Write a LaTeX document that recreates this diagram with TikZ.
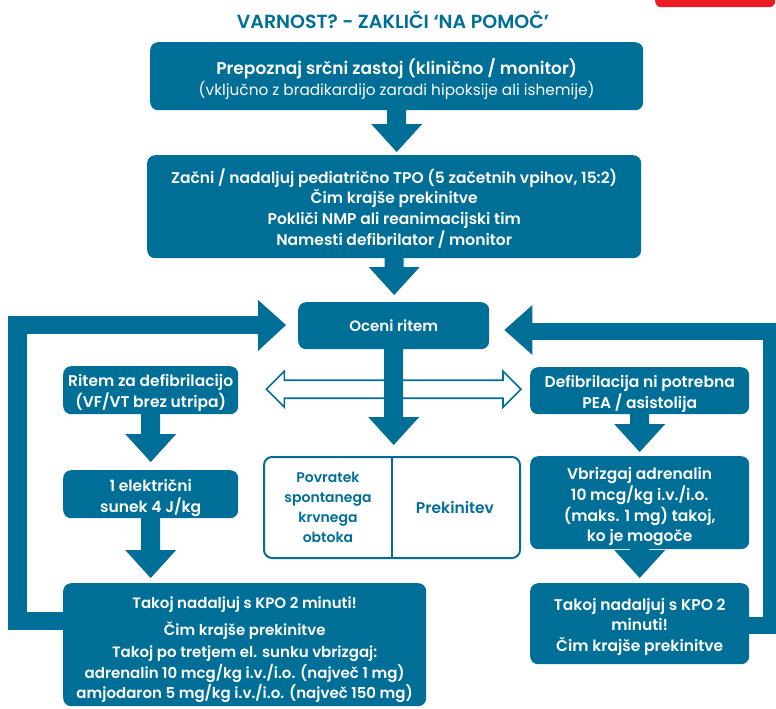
\documentclass[tikz,border=0pt]{standalone}
\usepackage{fontspec}
\setmainfont{Poppins}[BoldFont={Poppins SemiBold}]
\usetikzlibrary{calc}
\definecolor{ercblue}{RGB}{0,111,152}
\definecolor{ercred}{RGB}{237,28,36}
\pgfdeclarelayer{background}
\pgfsetlayers{background,main}

\tikzset{
  flowbox/.style={fill=ercblue, rounded corners=8pt, anchor=north west, inner sep=0pt},
  flowtext/.style={text=white, inner sep=0pt, align=center,
    font=\bfseries\fontsize{15.5}{20.7}\selectfont},
  outcomebox/.style={draw=ercblue, line width=2pt, fill=white, rounded corners=8pt,
    anchor=north west, inner sep=0pt},
  outcometext/.style={text=ercblue, align=center, inner sep=0pt,
    font=\bfseries\fontsize{14}{20}\selectfont},
  titletext/.style={text=ercblue, font=\bfseries\fontsize{19}{22}\selectfont},
  loopbar/.style={draw=ercblue, line join=miter},
}

% text of box #1, set #2 pt below its centre
\newcommand{\boxtext}[4][]{%
  \node[flowtext,#1] (#2-text) at ($(#2.center)+(0,#3)$) {#4};}

% vertical block arrow from the bottom of #1 to just above the top of #2 (gap #3)
\newcommand{\flowdown}[3]{%
  \fill[ercblue] let \p1=(#1.south), \p2=(#2.north) in
    (\x1-9.5pt,\y1+1pt) -- (\x1-9.5pt,\y2+#3pt+28pt) -- (\x1-25.5pt,\y2+#3pt+28pt)
    -- (\x1,\y2+#3pt) -- (\x1+25.5pt,\y2+#3pt+28pt) -- (\x1+9.5pt,\y2+#3pt+28pt)
    -- (\x1+9.5pt,\y1+1pt) -- cycle;}

\begin{document}
\begin{tikzpicture}[x=1pt, y=-1pt]
\useasboundingbox (0,0) rectangle (776,709);

% corner badge
\node[fill=ercred, rounded corners=6pt, anchor=north west, inner sep=0pt,
      minimum width=120pt, minimum height=18pt] (badge) at (655,-11) {};

\node[titletext] (title) at (393,20) {VARNOST? - ZAKLIČI ‘NA POMOČ’};

% boxes
\node[flowbox, minimum width=493pt, minimum height=68pt]  (b1)    at (150,42)  {};
\node[flowbox, minimum width=494pt, minimum height=103pt] (b2)    at (147,155) {};
\node[flowbox, minimum width=191pt, minimum height=47pt]  (oceni) at (298,302) {};
\node[flowbox, minimum width=175pt, minimum height=48pt]  (ritem) at (63,366)  {};
\node[flowbox, minimum width=219pt, minimum height=47pt]  (defib) at (530,367) {};
\node[flowbox, minimum width=175pt, minimum height=48pt]  (sunek) at (63,470)  {};
\node[flowbox, minimum width=219pt, minimum height=93pt]  (vbr)   at (530,456) {};
\node[flowbox, minimum width=363pt, minimum height=123pt] (bl)    at (63,583)  {};
\node[flowbox, minimum width=219pt, minimum height=81pt]  (br)    at (530,583) {};
\node[outcomebox, minimum width=256pt, minimum height=101pt] (rosc) at (263,456) {};
\draw[ercblue, line width=2pt] (rosc.north) -- (rosc.south);

% box texts
\boxtext{b1}{3}{{\fontsize{17}{22}\selectfont Prepoznaj srčni zastoj (klinično / monitor)}\\
   {\mdseries\fontsize{15.3}{22}\selectfont (vključno z bradikardijo zaradi hipoksije ali ishemije)}}
\boxtext{b2}{1.5}{Začni / nadaljuj pediatrično TPO (5 začetnih vpihov, 15:2)\\
   Čim krajše prekinitve\\
   Pokliči NMP ali reanimacijski tim\\
   Namesti defibrilator / monitor}
\boxtext[font=\bfseries\fontsize{15}{18}\selectfont]{oceni}{0}{Oceni ritem}
\boxtext{ritem}{3}{Ritem za defibrilacijo\\(VF/VT brez utripa)}
\boxtext{defib}{3}{Defibrilacija ni potrebna\\PEA / asistolija}
\boxtext{sunek}{3.5}{1 električni\\sunek 4 J/kg}
\boxtext{vbr}{4}{Vbrizgaj adrenalin\\10 mcg/kg i.v./i.o.\\(maks. 1 mg) takoj,\\ko je mogoče}
\boxtext[font=\bfseries\fontsize{15}{20.5}\selectfont]{bl}{5}{Takoj nadaljuj s KPO 2 minuti!\\[6.5pt]
   Čim krajše prekinitve\\[1.5pt]
   Takoj po tretjem el. sunku vbrizgaj:\\
   adrenalin 10 mcg/kg i.v./i.o. (največ 1 mg)\\
   amjodaron 5 mg/kg i.v./i.o. (največ 150 mg)}
\boxtext{br}{3}{Takoj nadaljuj s KPO 2\\minuti!\\Čim krajše prekinitve}
\node[outcometext] (roscl) at (328,507) {Povratek\\spontanega\\krvnega\\obtoka};
\node[outcometext, font=\bfseries\fontsize{15.5}{20}\selectfont] (roscr) at (455,507) {Prekinitev};

\begin{pgfonlayer}{background}
  % loop back from the shockable branch
  \coordinate (lb) at (17.5,621);
  \coordinate (lt) at (17.5,325);
  \coordinate (lh) at ($(oceni.west |- lt)+(-40,0)$);
  \draw[loopbar, line width=18.5pt] ($(bl.west |- lb)+(6,0)$) -- (lb) -- (lt) -- ($(lh)+(2,0)$);
  \fill[ercblue] ($(lh)+(0,-25)$) -- ($(lh)+(28,0)$) -- ($(lh)+(0,26)$) -- cycle;

  % loop back from the non-shockable branch
  \coordinate (rb) at (771.5,625);
  \coordinate (rt) at (771.5,331);
  \coordinate (rh) at ($(oceni.east |- rt)+(43,0)$);
  \draw[loopbar, line width=17pt] ($(br.east |- rb)+(-6,0)$) -- (rb) -- (rt) -- ($(rh)+(-2,0)$);
  \fill[ercblue] ($(rh)+(0,-26)$) -- ($(rh)+(-28,-1)$) -- ($(rh)+(0,24)$) -- cycle;

  % hollow double arrow between the two rhythm branches
  \coordinate (dl) at ($(ritem.east)+(28,-1)$);
  \coordinate (dr) at ($(defib.west)+(-9,-1.5)$);
  \draw[ercblue, line width=1.6pt, fill=white, line join=miter]
    let \p1=(dl), \p2=(dr) in
    (\x1,\y1) -- (\x1+18pt,\y1+18pt) -- (\x1+18pt,\y1+9pt) -- (\x2-18pt,\y1+9pt)
    -- (\x2-18pt,\y1+18pt) -- (\x2,\y1) -- (\x2-18pt,\y1-18pt) -- (\x2-18pt,\y1-9pt)
    -- (\x1+18pt,\y1-9pt) -- (\x1+18pt,\y1-18pt) -- cycle;

  % block arrows
  \flowdown{b1}{b2}{3}
  \flowdown{b2}{oceni}{7}
  \flowdown{oceni}{rosc}{11}
  \flowdown{ritem}{sunek}{8}
  \flowdown{sunek}{bl}{5}
  \flowdown{defib}{vbr}{4}
  \flowdown{vbr}{br}{5}
\end{pgfonlayer}
\end{tikzpicture}
\end{document}
